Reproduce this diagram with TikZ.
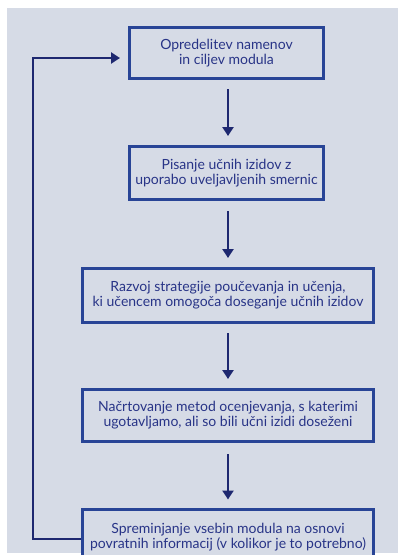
\documentclass[tikz,border=0pt]{standalone}
\usepackage{fontspec}
\setmainfont{Lato}
\usetikzlibrary{arrows.meta}
\definecolor{bgc}{RGB}{214,219,230}
\definecolor{boxc}{RGB}{40,68,150}
\definecolor{arrc}{RGB}{30,40,112}
\definecolor{txtc}{RGB}{40,52,135}
\tikzset{
  stepbox/.style={draw=boxc, line width=3pt, fill=bgc, text=txtc, align=center,
    inner sep=0pt, font=\fontsize{14}{15.2}\selectfont},
  flowarrow/.style={draw=arrc, line width=2.6pt, -{Triangle[width=11pt,length=9pt]}},
}
\begin{document}
\begin{tikzpicture}[x=1pt,y=-1pt]
\useasboundingbox (0,0) rectangle (398,555);
\clip (0,0) rectangle (398,555);
\fill[bgc] (7,8) rectangle (398,553);
\node[stepbox, minimum width=194pt, minimum height=51pt] (b1) at (226.5,53)
  {Opredelitev namenov\\in ciljev modula};
\node[stepbox, minimum width=194pt, minimum height=53pt] (b2) at (226.5,173)
  {Pisanje učnih izidov z\\uporabo uveljavljenih smernic};
\node[stepbox, minimum width=291pt, minimum height=54pt] (b3) at (228,295.5)
  {Razvoj strategije poučevanja in učenja,\\ki učencem omogoča doseganje učnih izidov};
\node[stepbox, minimum width=291pt, minimum height=52pt] (b4) at (228,415.5)
  {Načrtovanje metod ocenjevanja, s katerimi\\ugotavljamo, ali so bili učni izidi doseženi};
\node[stepbox, minimum width=291pt, minimum height=56pt] (b5) at (228,537)
  {Spreminjanje vsebin modula na osnovi\\povratnih informacij (v kolikor je to potrebno)};
\coordinate (fb1) at (33,539);
\coordinate (fb2) at (33,58);
\coordinate (a1) at (228,0);
\draw[flowarrow, shorten <=9pt, shorten >=9pt] (a1 |- b1.south) -- (a1 |- b2.north);
\draw[flowarrow, shorten <=10pt, shorten >=9pt] (a1 |- b2.south) -- (a1 |- b3.north);
\draw[flowarrow, shorten <=9pt, shorten >=9pt] (b3.south -| a1) -- (b4.north -| a1);
\draw[flowarrow, shorten <=11pt, shorten >=8pt] (b4.south -| a1) -- (b5.north -| a1);
\draw[flowarrow, shorten >=8pt] (b5.west |- fb1) -- (fb1) -- (fb2) -- (b1.west |- fb2);
\end{tikzpicture}
\end{document}
